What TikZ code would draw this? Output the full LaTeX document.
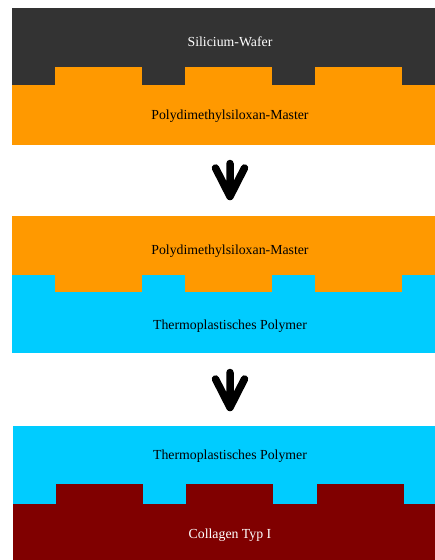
\documentclass[tikz,border=0pt]{standalone}
\usepackage{fontspec}
\setmainfont{Liberation Serif}
\usepackage{xcolor}
\usepackage{tikz}

\definecolor{wafergray}{HTML}{333333}
\definecolor{pdmsorange}{HTML}{FF9900}
\definecolor{polycyan}{HTML}{00CCFF}
\definecolor{collred}{HTML}{800000}

\begin{document}
\begin{tikzpicture}[
  x=1pt, y=-1pt,
  font=\fontsize{13.8}{16}\selectfont,
  lbl/.style={inner sep=0pt, anchor=base},
  bigarrow/.style={line width=7.5pt, line cap=round, line join=round},
]
\useasboundingbox (0,0) rectangle (435,560);
% Abformung 1: Wafer -> PDMS
\fill[wafergray] (12,8) rectangle (435,85);
\fill[pdmsorange] (12,85) rectangle (435,145);
\foreach \x in {55,185,315} \fill[pdmsorange] (\x,67) rectangle ++(87,18);
\node[lbl, white] (wafer) at (230,46) {Silicium-Wafer};
\node[lbl] (pdmsa) at (230,119) {Polydimethylsiloxan-Master};
% Abformung 2: PDMS -> Polymer
\fill[pdmsorange] (12,216) rectangle (435,275);
\fill[polycyan] (12,275) rectangle (435,353);
\foreach \x in {55,185,315} \fill[pdmsorange] (\x,275) rectangle ++(87,17);
\node[lbl] (pdmsb) at (230,254) {Polydimethylsiloxan-Master};
\node[lbl] (polya) at (230,329) {Thermoplastisches Polymer};
% Abformung 3: Polymer -> Collagen
\fill[polycyan] (13,426) rectangle (435,504);
\fill[collred] (13,504) rectangle (435,560);
\foreach \x in {56,186,317} \fill[collred] (\x,484) rectangle ++(87,20);
\node[lbl] (polyb) at (230,459) {Thermoplastisches Polymer};
\node[lbl, white] (coll) at (230,538) {Collagen Typ I};
% Pfeile
\coordinate (a1s) at (230,163.5);
\coordinate (a1e) at (230,196.5);
\coordinate (a2s) at (230,372.5);
\coordinate (a2e) at (230,407.5);
\draw[bigarrow] (a1s) -- (a1e) ++(-14.5,-28.5) -- (a1e) -- ++(14.5,-28.5);
\draw[bigarrow] (a2s) -- (a2e) ++(-14.5,-28.5) -- (a2e) -- ++(14.5,-28.5);
\end{tikzpicture}
\end{document}
